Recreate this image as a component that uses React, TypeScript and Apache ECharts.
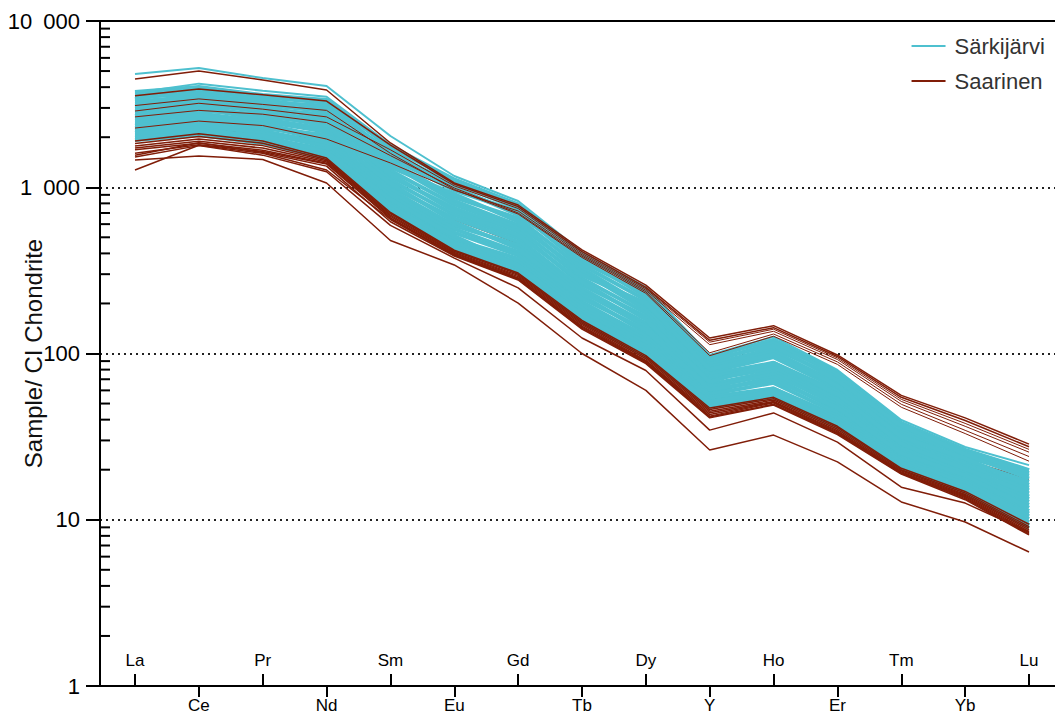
import { useEffect, useRef } from 'react';
import * as echarts from 'echarts';

const ELEMENTS = ['La', 'Ce', 'Pr', 'Nd', 'Sm', 'Eu', 'Gd', 'Tb', 'Dy', 'Y', 'Ho', 'Er', 'Tm', 'Yb', 'Lu'];
const UPPER_LABEL_IDX = [0, 2, 4, 6, 8, 10, 12, 14];
const LOWER_LABEL_IDX = [1, 3, 5, 7, 9, 11, 13];
const Y_MINOR_TICKS = [
  2, 3, 4, 5, 6, 7, 8, 9,
  20, 30, 40, 50, 60, 70, 80, 90,
  200, 300, 400, 500, 600, 700, 800, 900,
  2000, 3000, 4000, 5000, 6000, 7000, 8000, 9000,
];

// Särkijärvi samples (La ... Lu)
const sarkijarviBand: number[][] = [
  [3741, 4009, 3589, 3350, 1722, 1106, 782, 392, 241, 95.3, 120.5, 77.4, 38.2, 26.3, 19.9],
  [3619, 3751, 3472, 3218, 1576, 1054, 747, 357, 230, 88.9, 115.8, 74.5, 35.8, 25.5, 19.1],
  [3500, 3628, 3248, 3091, 1508, 957, 713, 341, 210, 85.9, 107.1, 71.7, 34.7, 24.1, 18.4],
  [3275, 3510, 3142, 2853, 1442, 868, 650, 325, 192, 83.0, 102.9, 66.5, 33.6, 22.7, 16.9],
  [3168, 3285, 2940, 2741, 1380, 827, 592, 310, 183, 77.4, 95.1, 61.6, 32.5, 22.1, 15.6],
  [2964, 3178, 2844, 2528, 1263, 788, 565, 283, 175, 74.8, 87.9, 59.3, 30.5, 21.5, 15.0],
  [2867, 3073, 2661, 2429, 1156, 750, 540, 258, 167, 72.2, 84.5, 55.0, 29.6, 20.8, 13.8],
  [2682, 2973, 2574, 2242, 1106, 681, 492, 246, 152, 69.7, 81.2, 52.9, 27.8, 19.6, 13.3],
  [2594, 2782, 2490, 2154, 1012, 649, 470, 235, 145, 65.1, 78.1, 50.9, 26.9, 19.0, 12.8],
  [2509, 2691, 2409, 1987, 968, 589, 448, 224, 133, 62.9, 75.0, 49.0, 26.0, 18.0, 12.3],
  [2427, 2518, 2330, 1909, 926, 561, 408, 204, 127, 58.7, 72.1, 45.4, 24.4, 17.5, 11.3],
  [2271, 2436, 2180, 1834, 886, 534, 390, 195, 121, 56.7, 66.6, 43.7, 23.6, 17.0, 10.9],
  [2197, 2356, 2109, 1762, 847, 485, 372, 186, 116, 54.8, 61.6, 42.1, 22.9, 16.5, 10.5],
  [2125, 2279, 1973, 1693, 810, 462, 355, 178, 111, 52.9, 61.6, 40.5, 22.2, 15.6, 10.1],
  [2055, 2132, 1909, 1626, 775, 462, 339, 170, 106, 51.1, 59.2, 39.0, 21.5, 15.6, 9.66],
  [1988, 2132, 1909, 1562, 741, 440, 324, 162, 101, 49.4, 56.9, 37.5, 20.8, 15.2, 9.28],
  [1923, 2062, 1846, 1500, 710, 419, 309, 155, 96.6, 47.7, 54.7, 36.1, 20.2, 14.7, 8.92],
  [3386, 3878, 3358, 2969, 1647, 1004, 681, 374, 220, 92.1, 111.4, 69.0, 37.0, 24.8, 17.7],
  [3064, 3395, 3039, 2632, 1320, 911, 621, 296, 201, 80.2, 98.9, 64.0, 31.5, 23.4, 16.2],
  [2773, 2876, 2751, 2333, 1208, 715, 516, 270, 160, 67.4, 87.9, 57.1, 28.7, 20.2, 14.4],
  [2348, 2603, 2254, 2069, 1058, 618, 428, 214, 139, 60.8, 69.3, 47.2, 25.2, 18.5, 11.8],
  [2125, 2204, 2040, 1626, 847, 509, 339, 170, 101, 51.1, 59.2, 37.5, 20.8, 16.0, 9.28],
];
const sarkijarviHigh: number[][] = [
  [4800, 5210, 4540, 4064, 2034, 1169, 826, 408, 251, 98, 126, 79.6, 39.8, 27.4, 21.3],
  [3700, 4200, 3800, 3500, 1800, 1130, 800, 400, 245, 96, 122, 78, 38.5, 26.5, 20],
];

// Saarinen samples (La ... Lu)
const saarinenHidden: number[][] = [
  [2050, 2250, 2100, 1950, 1000, 640, 460, 240, 150, 72, 88, 60, 32, 23, 17.5],
];
const saarinenMid: number[][] = [
  [2875, 3200, 2950, 2650, 1680, 1020, 745, 400, 245, 117, 140, 94, 53, 38, 26.5],
  [2270, 2500, 2350, 1950, 1400, 960, 720, 392, 240, 113, 136, 92, 51.5, 36.5, 25.5],
  [2650, 2900, 2750, 2450, 1550, 990, 700, 385, 235, 101, 131, 89, 49.5, 34.5, 24],
  [3100, 3400, 3150, 2900, 1600, 970, 690, 378, 230, 97, 127, 86, 47.5, 33, 22.5],
];
const saarinenTop: number[][] = [
  [4480, 5005, 4420, 3845, 1846, 1061, 782, 420, 258, 124, 147, 98, 56, 41, 28.5],
  [3550, 3900, 3600, 3300, 1790, 1046, 765, 410, 250, 120, 143, 96, 54.5, 39.5, 27.5],
];
const saarinenLowBundle: number[][] = [
  [1900, 2100, 1900, 1500, 705, 418, 305, 158, 97, 47, 54.5, 36.5, 20.4, 14.8, 9.4],
  [1830, 2020, 1840, 1470, 693, 412, 300, 155, 95, 46, 53.5, 35.8, 20.0, 14.5, 9.1],
  [1770, 1950, 1780, 1445, 680, 405, 295, 152, 93, 45, 52.5, 35.0, 19.7, 14.2, 8.9],
  [1720, 1890, 1720, 1420, 668, 400, 290, 149, 91, 44, 51.5, 34.3, 19.4, 14.0, 8.7],
  [1680, 1840, 1670, 1395, 655, 395, 285, 146, 90, 43, 51, 33.8, 19.2, 13.8, 8.5],
  [1600, 1800, 1640, 1380, 650, 392, 282, 144, 89, 42, 50.5, 33.3, 19.0, 13.6, 8.35],
];
const saarinenLowest: number[][] = [
  [1520, 1780, 1560, 1240, 590, 375, 248, 124, 79, 34.6, 43.9, 29.3, 15.7, 12.6, 8.4],
  [1459, 1540, 1470, 1060, 478, 341, 201, 100, 60, 26.3, 32.3, 22.3, 12.8, 9.7, 6.4],
  [1270, 1790, 1600, 1270, 640, 390, 280, 142, 88, 41.5, 49.5, 33, 19, 13.4, 8.2],
  [1560, 1850, 1620, 1340, 620, 386, 277, 140, 87, 41, 49, 32.5, 18.8, 13.2, 8.1],
];

const CYAN = '#4ec0cf';
const RED = '#801d08';
const FONT = '"Liberation Sans", Arial, Helvetica, sans-serif';

function lines(name: string, color: string, width: number, rows: number[][]) {
  return rows.map((r) => ({
    type: 'line',
    name,
    xAxisIndex: 0,
    yAxisIndex: 0,
    data: r.map((v, i) => [i, v]),
    showSymbol: false,
    symbol: 'none',
    lineStyle: { color, width },
    itemStyle: { color },
    silent: true,
    emphasis: { disabled: true },
    animation: false,
  }));
}

function fmtY(v: number) {
  return String(v).replace(/\B(?=(\d{3})+(?!\d))/g, '\u2002');
}

export default function App() {
  const ref = useRef<HTMLDivElement>(null);
  useEffect(() => {
    if (!ref.current) return;
    const chart = echarts.init(ref.current, undefined, { renderer: 'svg' });
    const xMin = -0.548;
    const xMax = 14.407;
    chart.setOption({
      animation: false,
      textStyle: { fontFamily: FONT },
      grid: { left: 100, right: 0, top: 21, bottom: 28, containLabel: false, outerBoundsMode: 'none' },
      legend: {
        data: [
          { name: 'Särkijärvi', icon: 'rect' },
          { name: 'Saarinen', icon: 'rect' },
        ],
        orient: 'vertical',
        right: 10,
        top: 35,
        padding: 0,
        itemWidth: 34,
        itemHeight: 2,
        itemGap: 13,
        selectedMode: false,
        textStyle: { fontSize: 22, color: '#333', fontFamily: FONT, padding: [0, 0, 0, 4] },
      },
      xAxis: [
        {
          type: 'value',
          position: 'bottom',
          min: xMin,
          max: xMax,
          axisLine: { show: true, onZero: false, lineStyle: { color: '#000', width: 2 } },
          axisTick: { show: true, inside: true, length: 12, customValues: UPPER_LABEL_IDX, lineStyle: { color: '#000', width: 2 } },
          axisLabel: {
            show: true,
            inside: true,
            margin: 17,
            customValues: UPPER_LABEL_IDX,
            formatter: (v: number) => ELEMENTS[Math.round(v)] ?? '',
            fontSize: 17,
            color: '#000',
            fontFamily: FONT,
          },
          splitLine: { show: false },
        },
        {
          type: 'value',
          position: 'bottom',
          min: xMin,
          max: xMax,
          axisLine: { show: true, onZero: false, lineStyle: { color: '#000', width: 2 } },
          axisTick: { show: true, inside: false, length: 11, customValues: LOWER_LABEL_IDX, lineStyle: { color: '#000', width: 2 } },
          axisLabel: {
            show: true,
            margin: 11,
            customValues: LOWER_LABEL_IDX,
            formatter: (v: number) => ELEMENTS[Math.round(v)] ?? '',
            fontSize: 17,
            lineHeight: 16,
            color: '#000',
            fontFamily: FONT,
          },
          splitLine: { show: false },
        },
        {
          type: 'value',
          position: 'top',
          min: xMin,
          max: xMax,
          axisLine: { show: true, onZero: false, lineStyle: { color: '#000', width: 2 } },
          axisTick: { show: false },
          axisLabel: { show: false },
          splitLine: { show: false },
        },
      ],
      yAxis: [
        {
          type: 'log',
          logBase: 10,
          min: 1,
          max: 10000,
          position: 'left',
          name: 'Sample/ CI Chondrite',
          nameLocation: 'middle',
          nameRotate: 90,
          nameGap: 55,
          nameMoveOverlap: false,
          nameTextStyle: { fontSize: 24, color: '#111', fontFamily: FONT },
          axisLine: { show: true, onZero: false, lineStyle: { color: '#000', width: 2 } },
          axisTick: { show: true, inside: false, length: 14, lineStyle: { color: '#000', width: 2 } },
          axisLabel: { show: true, margin: 20, fontSize: 22, color: '#000', fontFamily: FONT, formatter: fmtY },
          splitLine: { show: true, lineStyle: { color: '#222', width: 2, type: [2, 4] } },
          minorTick: { show: false },
        },
      ],
      series: [
        ...lines('Saarinen', RED, 1.5, saarinenHidden),
        ...lines('Särkijärvi', CYAN, 4, sarkijarviBand),
        ...lines('Särkijärvi', CYAN, 2, sarkijarviHigh),
        ...lines('Saarinen', RED, 1, saarinenMid),
        ...lines('Saarinen', RED, 1.5, saarinenTop),
        ...lines('Saarinen', RED, 1.5, saarinenLowBundle),
        ...lines('Saarinen', RED, 1.5, saarinenLowest),
        {
          type: 'custom',
          name: 'minor-ticks',
          xAxisIndex: 0,
          yAxisIndex: 0,
          silent: true,
          clip: false,
          z: 10,
          data: Y_MINOR_TICKS.map((v) => [0, v]),
          renderItem: (params: any, api: any) => {
            const y = api.coord([0, api.value(1)])[1];
            const x0 = params.coordSys.x;
            return {
              type: 'line',
              shape: { x1: x0, y1: y, x2: x0 + 10, y2: y },
              style: { stroke: '#000', lineWidth: 2 },
            };
          },
        },
      ],
    });
    return () => chart.dispose();
  }, []);
  return (
    <div style={{ position: 'fixed', left: 0, top: 0, width: 1055, height: 714, background: '#fff' }}>
      <div ref={ref} style={{ width: 1055, height: 714 }} />
    </div>
  );
}
